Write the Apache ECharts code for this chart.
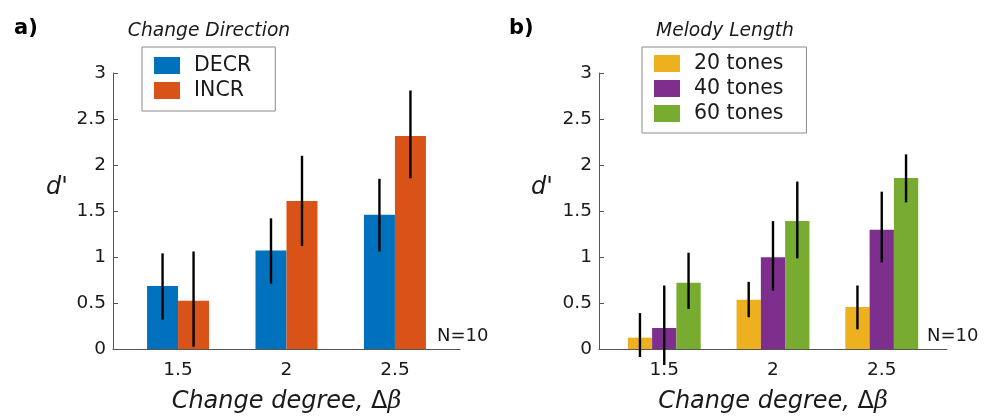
<!DOCTYPE html>
<html>
<head>
<meta charset="utf-8">
<script src="https://cdn.jsdelivr.net/npm/echarts@6/dist/echarts.min.js"></script>
<style>
html,body{margin:0;padding:0;background:#fff;}
#main{width:990px;height:419px;}
</style>
</head>
<body>
<div id="main"></div>
<script>
// ---- data ----
const categories = [1.5, 2, 2.5];
const tickLabels = [1.5, 2, 2.5];
const decr = [0.685, 1.07, 1.46];
const decrLo = [0.32, 0.71, 1.06];
const decrHi = [1.04, 1.42, 1.85];
const incr = [0.525, 1.61, 2.315];
const incrLo = [0.025, 1.12, 1.855];
const incrHi = [1.06, 2.10, 2.81];
const tones20 = [0.123, 0.536, 0.457];
const tones20Lo = [-0.087, 0.345, 0.214];
const tones20Hi = [0.39, 0.73, 0.69];
const tones40 = [0.228, 0.996, 1.297];
const tones40Lo = [-0.174, 0.634, 0.942];
const tones40Hi = [0.69, 1.39, 1.71];
const tones60 = [0.72, 1.39, 1.859];
const tones60Lo = [0.435, 0.985, 1.594];
const tones60Hi = [1.047, 1.82, 2.116];

// ---- styles ----
const FONT = 'DejaVu Sans';
const barWLeft = 31;
const barWRight = 24.3;
const axisColor = '#555';
const textColor = '#1a1a1a';

const chart = echarts.init(document.getElementById('main'), null, {renderer: 'canvas'});

function pts(vals) { return categories.map((c, i) => [c, vals[i]]); }
function errPts(lo, hi) { return categories.map((c, i) => [c, lo[i], hi[i]]); }
function errSeries(idx, lo, hi, offset) {
  return {
    type: 'custom', xAxisIndex: idx, yAxisIndex: idx, z: 5, clip: false,
    silent: true, legendHoverLink: false,
    encode: {x: 0, y: [1, 2]},
    data: errPts(lo, hi),
    renderItem: function (params, api) {
      const x = api.value(0);
      const p1 = api.coord([x, api.value(1)]);
      const p2 = api.coord([x, api.value(2)]);
      return {type: 'line', shape: {x1: p1[0] + offset, y1: p1[1], x2: p2[0] + offset, y2: p2[1]},
        style: {stroke: '#000', lineWidth: 2.4}};
    }
  };
}
function barSeries(name, idx, vals, color, w) {
  return {name: name, type: 'bar', xAxisIndex: idx, yAxisIndex: idx, data: pts(vals),
    barWidth: w, barGap: '0%', itemStyle: {color: color}, z: 2};
}
function xAxisCfg(idx) {
  return {
    gridIndex: idx, type: 'value', min: 1.2, max: 2.8,
    axisLine: {show: true, onZero: false, lineStyle: {color: axisColor, width: 1}},
    axisTick: {show: false},
    splitLine: {show: false},
    axisLabel: {customValues: tickLabels, color: textColor, fontFamily: FONT, fontSize: 18.5, margin: 12,
      formatter: v => String(v)},
    name: '{a|Change degree, }{b|Δ}{c|β}',
    nameLocation: 'middle', nameGap: 41,
    nameTextStyle: {rich: {
      a: {fontFamily: FONT, fontStyle: 'italic', fontSize: 24, color: textColor},
      b: {fontFamily: FONT, fontSize: 24, color: textColor},
      c: {fontFamily: 'DejaVu Serif', fontStyle: 'italic', fontSize: 24, color: textColor}
    }}
  };
}
function yAxisCfg(idx) {
  return {
    gridIndex: idx, type: 'value', min: 0, max: 3, interval: 0.5,
    axisLine: {show: true, onZero: false, lineStyle: {color: axisColor, width: 1}},
    axisTick: {show: true, inside: true, length: 5, lineStyle: {color: axisColor}},
    splitLine: {show: false},
    axisLabel: {color: textColor, fontFamily: FONT, fontSize: 18.5, margin: 7}
  };
}
const legendCommon = {
  orient: 'vertical', itemWidth: 26, itemHeight: 17, itemGap: 4, icon: 'rect',
  borderColor: '#8a8a8a', borderWidth: 1, backgroundColor: '#fff',
  selectedMode: false,
  textStyle: {fontFamily: FONT, fontSize: 20.5, color: textColor, padding: [0, 0, 0, 9]},
  itemStyle: {borderWidth: 0}
};

const option = {
  animation: false,
  backgroundColor: '#fff',
  grid: [
    {left: 113, top: 73, width: 347, height: 276, outerBoundsMode: 'none'},
    {left: 599, top: 73, width: 348, height: 276, outerBoundsMode: 'none'}
  ],
  xAxis: [xAxisCfg(0), xAxisCfg(1)],
  yAxis: [yAxisCfg(0), yAxisCfg(1)],
  legend: [
    Object.assign({}, legendCommon, {left: 142, top: 47, padding: [8, 24, 10, 12], data: ['DECR', 'INCR']}),
    Object.assign({}, legendCommon, {left: 642, top: 47, padding: [6, 23, 9, 12], data: ['20 tones', '40 tones', '60 tones']})
  ],
  series: [
    barSeries('DECR', 0, decr, '#0072BD', barWLeft),
    barSeries('INCR', 0, incr, '#D95319', barWLeft),
    barSeries('20 tones', 1, tones20, '#EDB120', barWRight),
    barSeries('40 tones', 1, tones40, '#7E2F8E', barWRight),
    barSeries('60 tones', 1, tones60, '#77AC30', barWRight),
    errSeries(0, decrLo, decrHi, -barWLeft / 2),
    errSeries(0, incrLo, incrHi, barWLeft / 2),
    errSeries(1, tones20Lo, tones20Hi, -barWRight),
    errSeries(1, tones40Lo, tones40Hi, 0),
    errSeries(1, tones60Lo, tones60Hi, barWRight)
  ],
  graphic: [
    {type: 'text', left: 14, top: 18, style: {text: 'a)', font: 'bold 21px "DejaVu Sans"', fill: '#000'}},
    {type: 'text', left: 509, top: 18, style: {text: 'b)', font: 'bold 21px "DejaVu Sans"', fill: '#000'}},
    {type: 'text', x: 209, y: 31, style: {text: 'Change Direction', font: 'italic 18.7px "DejaVu Sans"', fill: textColor, align: 'center', verticalAlign: 'middle'}},
    {type: 'text', x: 725, y: 31, style: {text: 'Melody Length', font: 'italic 18.7px "DejaVu Sans"', fill: textColor, align: 'center', verticalAlign: 'middle'}},
    {type: 'text', x: 57, y: 188, style: {text: "d'", font: 'italic 24px "DejaVu Sans"', fill: textColor, align: 'center', verticalAlign: 'middle'}},
    {type: 'text', x: 542, y: 188, style: {text: "d'", font: 'italic 24px "DejaVu Sans"', fill: textColor, align: 'center', verticalAlign: 'middle'}},
    {type: 'text', x: 437, y: 336, style: {text: 'N=10', font: '18px "DejaVu Sans"', fill: textColor, verticalAlign: 'middle'}},
    {type: 'text', x: 927, y: 336, style: {text: 'N=10', font: '18px "DejaVu Sans"', fill: textColor, verticalAlign: 'middle'}}
  ]
};
chart.setOption(option);
</script>
</body>
</html>
